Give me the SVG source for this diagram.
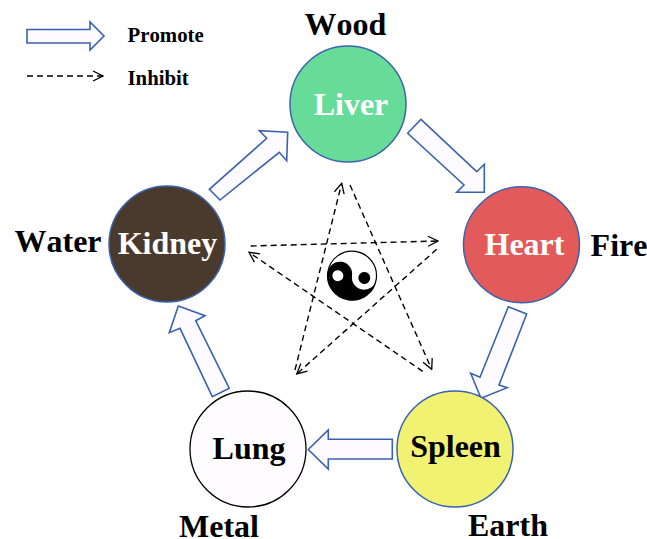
<svg xmlns="http://www.w3.org/2000/svg" width="647" height="539" viewBox="0 0 647 539">
<defs>
<marker id="open" viewBox="0 0 12 12" refX="11" refY="6" markerWidth="12" markerHeight="12" markerUnits="userSpaceOnUse" orient="auto"><path d="M1 1 L11 6 L1 11" fill="none" stroke="#000" stroke-width="1.3"/></marker>
</defs>
<style>
text{font-family:"Liberation Serif","Times New Roman",serif;font-weight:bold;fill:#000;font-kerning:none}
.big{font-size:32px}
.small{font-size:20.8px}
.w{fill:#fff}
.node{stroke:#3A62B0;stroke-width:1.5}
.block{fill:#FDFBFF;stroke:#3A62B0;stroke-width:1.6;stroke-linejoin:miter}
.dash{fill:none;stroke:#000;stroke-width:1.4;stroke-dasharray:6 4;marker-end:url(#open)}
</style>
<rect width="647" height="539" fill="#fff"/>
<g id="legend">
<polygon class="block" points="27,29.5 90,29.5 90,22 104,36 90,50 90,43 27,43"/>
<path class="dash" d="M27 76 L103 76"/>
<text class="small" x="127.5" y="42">Promote</text>
<text class="small" x="127.5" y="85">Inhibit</text>
</g>
<g id="connectors">
<polygon class="block" points="421,119.3 407.7,133.3 464,185 456.7,192.3 484.3,192.3 484.3,164.3 476.7,171.7"/>
<polygon class="block" points="508.3,306.7 526.7,314 499,385 507.3,387.7 481,398.3 470.7,373.3 480,377.3"/>
<polygon class="block" points="392.3,439.3 392.3,459 328.3,459 328.3,469 308.3,449.5 328.3,430 328.3,439.3"/>
<polygon class="block" points="229.3,388.3 212.3,396.7 180,328.3 169.3,332.7 178.3,306 205,315.7 195.7,320.7"/>
<polygon class="block" points="209.3,189.3 220,200 279.3,152.3 286.7,160.7 287.7,132.3 259.3,130.7 266.7,138.3"/>
<path class="dash" d="M250.7 246 L438 241"/>
<path class="dash" d="M350 185 L431.7 369.3"/>
<path class="dash" d="M436.7 249.3 L296.7 374"/>
<path class="dash" d="M422.7 371.3 L249 252.3"/>
<path class="dash" d="M295 370 L341.7 183.3"/>
</g>
<g id="taiji" transform="translate(352 275.7) rotate(8)">
<circle r="24.5" fill="#fff" stroke="#000" stroke-width="1.2"/>
<path d="M-24.5 0 A12.25 12.25 0 0 1 0 0 A12.25 12.25 0 0 0 24.5 0 A24.5 24.5 0 0 1 -24.5 0 Z" fill="#000"/>
<circle cx="-14" cy="2" r="5.5" fill="#fff"/>
<circle cx="12.5" cy="0.5" r="6" fill="#000"/>
</g>
<g id="liver">
<circle class="node" cx="348" cy="104" r="58" fill="#66DC98"/>
<text class="big w" x="351" y="115" text-anchor="middle">Liver</text>
<text class="big" x="345.5" y="35" text-anchor="middle">Wood</text>
</g>
<g id="heart">
<circle class="node" cx="521.5" cy="244.7" r="58" fill="#E25A59"/>
<text class="big w" x="524.5" y="255" text-anchor="middle">Heart</text>
<text class="big" x="619" y="256" text-anchor="middle">Fire</text>
</g>
<g id="spleen">
<circle class="node" cx="455" cy="449" r="58" fill="#F2F272"/>
<text class="big" x="455.5" y="457" text-anchor="middle">Spleen</text>
<text class="big" x="508" y="536" text-anchor="middle">Earth</text>
</g>
<g id="lung">
<circle cx="248" cy="449" r="58" fill="#FEFCFF" stroke="#000" stroke-width="1.3"/>
<text class="big" x="249" y="459" text-anchor="middle">Lung</text>
<text class="big" x="219" y="537" text-anchor="middle">Metal</text>
</g>
<g id="kidney">
<circle class="node" cx="167" cy="244" r="58" fill="#4A3A2E"/>
<text class="big w" x="167.5" y="254" text-anchor="middle">Kidney</text>
<text class="big" x="58" y="252" text-anchor="middle">Water</text>
</g>
</svg>
